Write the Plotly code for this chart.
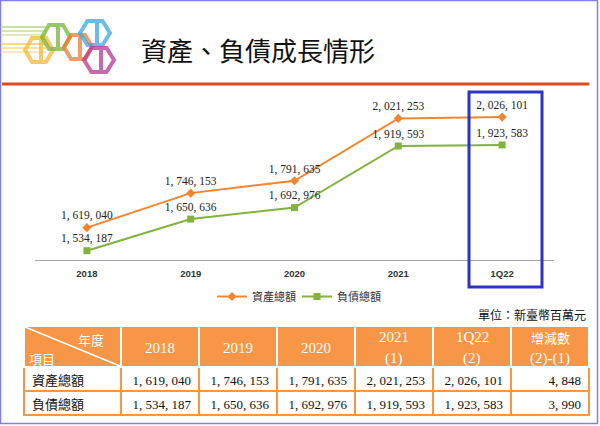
import plotly.graph_objects as go

# ---- data ----
years = ["2018", "2019", "2020", "2021", "1Q22"]
assets = [1619040, 1746153, 1791635, 2021253, 2026101]
liabilities = [1534187, 1650636, 1692976, 1919593, 1923583]
changes = [4848, 3990]
series_names = ["資產總額", "負債總額"]
header_labels = ["2018", "2019", "2020", "2021<br>(1)", "1Q22<br>(2)", "增減數<br>(2)-(1)"]
corner_top, corner_bottom = "年度", "項目"

W, H = 600, 426


def px(x):
    return x / W


def py(y):
    return 1 - y / H


def fmt(v):
    return f"{v:,}".replace(",", ", ")


ORANGE = "#F5842F"
GREEN = "#84B33D"
TAB_OR = "#F79646"
SERIF = "Liberation Serif"
CJK = "Noto Sans CJK TC"

fig = go.Figure()

fig.add_trace(go.Scatter(
    x=years, y=assets, name=series_names[0], mode="lines+markers+text",
    line=dict(color=ORANGE, width=2),
    marker=dict(symbol="diamond", size=7, color=ORANGE),
    text=[fmt(v) for v in assets], textposition="top center",
    textfont=dict(family=SERIF, size=11.5, color="#222"),
    cliponaxis=False,
))
fig.add_trace(go.Scatter(
    x=years, y=liabilities, name=series_names[1], mode="lines+markers+text",
    line=dict(color=GREEN, width=2),
    marker=dict(symbol="square", size=7, color=GREEN),
    text=[fmt(v) for v in liabilities], textposition="top center",
    textfont=dict(family=SERIF, size=11.5, color="#222"),
    cliponaxis=False,
))

# ---- table ----
col_w = [97, 78, 78, 78, 78, 78, 78]
tab_x0, tab_top, head_h, row_h = 24, 326, 41, 24
cols = [series_names]
for i in range(len(years)):
    cols.append([fmt(assets[i]), fmt(liabilities[i])])
cols.append([fmt(c) for c in changes])

fig.add_trace(go.Table(
    domain=dict(x=[px(tab_x0), px(tab_x0 + sum(col_w))], y=[py(421), py(tab_top)]),
    columnwidth=col_w,
    header=dict(
        values=[""] * 7,
        fill_color=TAB_OR,
        line=dict(color="white", width=1.5),
        height=head_h,
    ),
    cells=dict(
        values=cols,
        fill_color="white",
        line=dict(color=TAB_OR, width=1.5),
        align=["left"] + ["right"] * 6,
        font=dict(color="#111", family=[CJK] + [SERIF] * 6, size=13),
        height=row_h,
    ),
))

shapes = []
shapes.append(dict(type="rect", xref="paper", yref="paper",
                   x0=px(0.5), x1=px(597.5), y0=py(423.5), y1=py(0.5),
                   line=dict(color="#8080F0", width=1.5)))
shapes.append(dict(type="line", xref="paper", yref="paper",
                   x0=px(2), x1=px(589), y0=py(84), y1=py(84),
                   line=dict(color="#E2491C", width=3)))
shapes.append(dict(type="rect", xref="paper", yref="paper",
                   x0=px(469), x1=px(542), y0=py(287), y1=py(92),
                   line=dict(color="#2B35C4", width=3)))
shapes.append(dict(type="line", xref="paper", yref="paper",
                   x0=px(25), x1=px(120), y0=py(327), y1=py(366),
                   line=dict(color="white", width=1.5)))

# logo (decorative)
for yy, col in [(27, "#C9DFA0"), (31, "#D5E6B0"), (35, "#DDEBBE"),
                (44, "#F8D98A"), (48, "#FBE3A3"), (52, "#FCEAB8")]:
    shapes.append(dict(type="line", xref="paper", yref="paper",
                       x0=px(2), x1=px(46), y0=py(yy), y1=py(yy),
                       line=dict(color=col, width=2)))


def hexpath(cx, cy, hw, hh):
    pts = [(cx - hw, cy), (cx - hw / 2, cy - hh), (cx + hw / 2, cy - hh),
           (cx + hw, cy), (cx + hw / 2, cy + hh), (cx - hw / 2, cy + hh)]
    return "M " + " L ".join(f"{px(a):.4f},{py(b):.4f}" for a, b in pts) + " Z"


for cx, cy, hw, hh, col in [(39, 50, 14, 12, "#F6B733"), (56, 37, 14, 12, "#78B43A"),
                            (78, 47, 14, 12, "#F07A2E"), (95, 33, 15, 12, "#3AA7DF"),
                            (99, 60, 15, 12, "#B8378F")]:
    shapes.append(dict(type="path", xref="paper", yref="paper",
                       path=hexpath(cx, cy, hw, hh),
                       line=dict(color=col, width=4), opacity=0.75))
    shapes.append(dict(type="line", xref="paper", yref="paper",
                       x0=px(cx + 2), x1=px(cx + 2), y0=py(cy - hh + 2), y1=py(cy + hh - 2),
                       line=dict(color=col, width=4), opacity=0.75))

annotations = [
    dict(text="資產、負債成長情形", xref="paper", yref="paper", x=px(139), y=py(49),
         xanchor="left", yanchor="middle", showarrow=False,
         font=dict(family=CJK, size=26, color="#111")),
    dict(text="單位：新臺幣百萬元", xref="paper", yref="paper", x=px(588), y=py(314),
         xanchor="right", yanchor="middle", showarrow=False,
         font=dict(family=CJK, size=12, color="#111")),
    dict(text=corner_top, xref="paper", yref="paper", x=px(106), y=py(339),
         xanchor="right", yanchor="middle", showarrow=False,
         font=dict(family=CJK, size=13, color="white")),
    dict(text=corner_bottom, xref="paper", yref="paper", x=px(27), y=py(358),
         xanchor="left", yanchor="middle", showarrow=False,
         font=dict(family=CJK, size=13, color="white")),
]
left = tab_x0 + col_w[0]
for lab, w in zip(header_labels, col_w[1:]):
    parts = lab.split("<br>")
    ys = [348] if len(parts) == 1 else [337, 358]
    for part, yy in zip(parts, ys):
        is_cjk = any(ord(ch) > 0x2E80 for ch in part)
        annotations.append(dict(
            text=part, xref="paper", yref="paper", x=px(left + w / 2), y=py(yy),
            xanchor="center", yanchor="middle", showarrow=False,
            font=dict(family=CJK if is_cjk else SERIF, size=13 if is_cjk else 15,
                      color="white")))
    left += w

fig.update_layout(
    width=W, height=H,
    margin=dict(l=0, r=0, t=0, b=0),
    paper_bgcolor="white", plot_bgcolor="white",
    xaxis=dict(domain=[px(35), px(554)], type="category", range=[-0.5, 4.5],
               showline=True, linecolor="#A6A6A6", linewidth=1, showgrid=False,
               ticks="outside", ticklen=5, tickcolor="rgba(0,0,0,0)",
               tickfont=dict(family="Liberation Sans", size=9.5, color="#333", weight="bold"),
               fixedrange=True),
    yaxis=dict(domain=[py(260), py(97)], range=[1500000, 2100000],
               showgrid=False, zeroline=False, showticklabels=False, showline=False,
               fixedrange=True),
    showlegend=True,
    legend=dict(orientation="h", x=px(212), y=py(282), xanchor="left", yanchor="top",
                font=dict(family=CJK, size=11, color="#333"),
                itemwidth=30, entrywidth=40, entrywidthmode="pixels",
                bgcolor="rgba(0,0,0,0)"),
    shapes=shapes,
    annotations=annotations,
)

fig.write_html(
    "out.html",
    config={"displayModeBar": False},
    post_script="document.body.style.margin='0';document.body.style.padding='0';"
                "document.documentElement.style.overflow='hidden';",
)
